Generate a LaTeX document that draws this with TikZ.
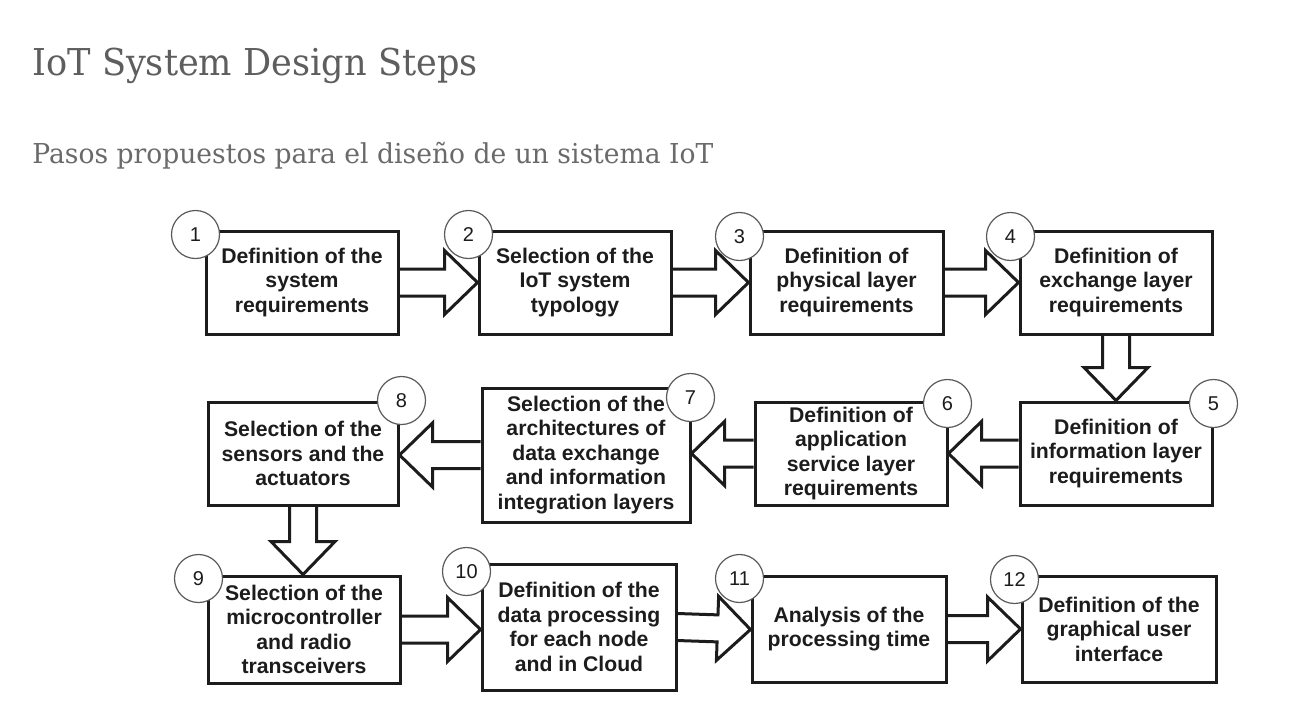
\documentclass[tikz,border=0pt]{standalone}
\usepackage{fontspec}
\setmainfont{Liberation Sans}
\newfontfamily\titlefont[FakeStretch=0.95]{DejaVu Serif}
\newfontfamily\subfont[FakeStretch=0.97]{DejaVu Serif}
\usetikzlibrary{calc}

\definecolor{dsInk}{HTML}{1C1C1C}
\definecolor{dsRing}{HTML}{5A5A5A}
\definecolor{dsHead}{HTML}{5E5E5E}
\definecolor{dsSub}{HTML}{6A6A6A}

\newcommand{\arrshaft}{6.75pt}
\newcommand{\arrwing}{16pt}
\newcommand{\arrhead}{16.5pt}
\newcommand{\blockarrow}[2]{%
  \path (#1) coordinate (tail) (#2) coordinate (tip);
  \path ($(tip)!\arrhead!(tail)$) coordinate (hb);
  \draw[blockline] ($(tail)!\arrshaft!90:(tip)$)
    -- ($(hb)!\arrshaft!90:(tip)$) -- ($(hb)!\arrwing!90:(tip)$)
    -- (tip)
    -- ($(hb)!\arrwing!-90:(tip)$) -- ($(hb)!\arrshaft!-90:(tip)$)
    -- ($(tail)!\arrshaft!-90:(tip)$);
}

\tikzset{
  stepbox/.style={draw=dsInk, line width=1.5pt, fill=white, align=center,
    inner sep=0pt, text=dsInk, font=\fontsize{10.6}{12.25}\selectfont\bfseries},
  stepnum/.style={circle, draw=dsRing, line width=0.6pt, fill=white,
    minimum size=24pt, inner sep=0pt, text=dsInk, font=\fontsize{10}{12}\selectfont},
  blockline/.style={draw=dsInk, line width=1.5pt},
}

\begin{document}
\begin{tikzpicture}[x=0.5pt, y=-0.5pt]
  \fill[white] (0,0) rectangle (1290,708);

  \node[anchor=base west, inner sep=0pt, text=dsHead, font=\titlefont\fontsize{18.5}{22}\selectfont]
    (title) at (32,75) {IoT System Design Steps};
  \node[anchor=base west, inner sep=0pt, text=dsSub, font=\subfont\fontsize{13.7}{16}\selectfont]
    (subtitle) at (32,163) {Pasos propuestos para el diseño de un sistema IoT};

  % row 1
  \node[stepbox, minimum width=96pt, minimum height=51.5pt] (b1) at (302,282.5) {Definition of the\\system\\requirements};
  \node[stepbox, minimum width=96pt, minimum height=51.5pt] (b2) at (575,282.5) {Selection of the\\IoT system\\typology};
  \node[stepbox, minimum width=96.5pt, minimum height=51.5pt] (b3) at (846.5,282.5) {Definition of\\physical layer\\requirements};
  \node[stepbox, minimum width=96pt, minimum height=51.5pt] (b4) at (1116,282.5) {Definition of\\exchange layer\\requirements};

  % row 2
  \node[stepbox, minimum width=96pt, minimum height=51.5pt] (b5) at (1116,453.5) {Definition of\\information layer\\requirements};
  \node[stepbox, minimum width=96pt, minimum height=51.5pt] (b6) at (851,453.5) {Definition of\\application\\service layer\\requirements};
  \node[stepbox, minimum width=104pt, minimum height=67pt] (b7) at (586,455) {Selection of the\\architectures of\\data exchange\\and information\\integration layers};
  \node[stepbox, minimum width=95pt, minimum height=51.5pt] (b8) at (303,453.5) {Selection of the\\sensors and the\\actuators};

  % row 3
  \node[stepbox, minimum width=96pt, minimum height=53.5pt] (b9) at (304,629.5) {Selection of the\\microcontroller\\and radio\\transceivers};
  \node[stepbox, minimum width=97pt, minimum height=63pt] (b10) at (579,627) {Definition of the\\data processing\\for each node\\and in Cloud};
  \node[stepbox, minimum width=97pt, minimum height=53pt] (b11) at (849,629) {Analysis of the\\processing time};
  \node[stepbox, minimum width=97pt, minimum height=53pt] (b12) at (1119,629) {Definition of the\\graphical user\\interface};

  \foreach \a/\b in {b1.east/b2.west, b2.east/b3.west, b3.east/b4.west, b4.south/b5.north,
                     b5.west/b6.east, b6.west/b7.east |- b6.west, b7.west/b8.east |- b7.west,
                     b8.south/b9.north -| b8.south,
                     b9.east/b10.west |- b9.east, b10.east/b11.west |- b9.east, b11.east/b12.west}
    {\blockarrow{\a}{\b}}

  % step numbers
  \foreach \n/\c/\s in {1/north west/{-9,5}, 2/north west/{-9,5}, 3/north west/{-9,7},
                        4/north west/{-8,7}, 5/north east/{0,3}, 6/north east/{-1,3},
                        7/north east/{-1,11}, 8/north east/{2,0}, 9/north west/{-8,4},
                        10/north west/{-14,9}, 11/north west/{-11,4}, 12/north west/{-6,5}}
    \node[stepnum] (n\n) at ([shift={(\s)}]b\n.\c) {\n};
\end{tikzpicture}
\end{document}
